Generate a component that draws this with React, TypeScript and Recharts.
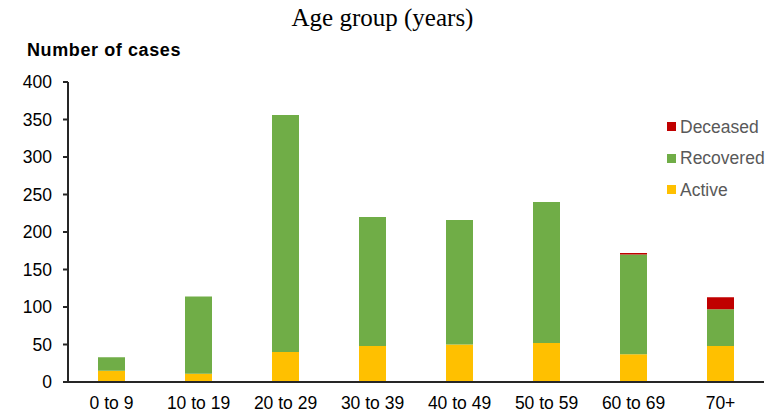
import React from "react";
import { BarChart, Bar, XAxis, YAxis } from "recharts";

const categories = ["0 to 9", "10 to 19", "20 to 29", "30 to 39", "40 to 49", "50 to 59", "60 to 69", "70+"];
const active = [15, 11, 40, 48, 50, 52, 37, 48];
const recovered = [18, 103, 316, 172, 166, 188, 133, 49];
const deceased = [0, 0, 0, 0, 0, 0, 2, 16];
const yTicks = [0, 50, 100, 150, 200, 250, 300, 350, 400];

const COLORS = { active: "#FFC000", recovered: "#70AD47", deceased: "#C00000" };
const legendItems = [
  { name: "Deceased", color: COLORS.deceased },
  { name: "Recovered", color: COLORS.recovered },
  { name: "Active", color: COLORS.active },
];

const data = categories.map((c, i) => ({
  name: c,
  active: active[i],
  recovered: recovered[i],
  deceased: deceased[i],
}));

const tickFont = { fontFamily: "Liberation Sans, Arial, sans-serif", fontSize: 17.5, fill: "#000" };

export default function App() {
  return (
    <div style={{ position: "absolute", left: 0, top: 0, width: 775, height: 420, background: "#fff" }}>
      <BarChart
        width={775}
        height={420}
        data={data}
        margin={{ top: 82, right: 11, bottom: 8, left: 0 }}
        barSize={27}
      >
        <XAxis
          dataKey="name"
          tickLine={false}
          tickSize={6}
          tickMargin={9}
          height={30}
          axisLine={{ stroke: "#262626", strokeWidth: 2 }}
          tick={tickFont}
          interval={0}
        />
        <YAxis
          width={68}
          domain={[0, 400]}
          ticks={yTicks}
          tickSize={5}
          tickMargin={11}
          tickLine={{ stroke: "#262626", strokeWidth: 2 }}
          axisLine={{ stroke: "#262626", strokeWidth: 2 }}
          tick={tickFont}
          interval={0}
        />
        <Bar dataKey="active" stackId="a" fill={COLORS.active} isAnimationActive={false} />
        <Bar dataKey="recovered" stackId="a" fill={COLORS.recovered} isAnimationActive={false} />
        <Bar dataKey="deceased" stackId="a" fill={COLORS.deceased} isAnimationActive={false} />
      </BarChart>
      <div
        style={{
          position: "absolute",
          left: 0,
          width: 765,
          top: 4,
          textAlign: "center",
          fontFamily: "Liberation Serif, serif",
          fontSize: 25,
          lineHeight: "28px",
          color: "#000",
        }}
      >
        Age group (years)
      </div>
      <div
        style={{
          position: "absolute",
          left: 27,
          top: 40,
          fontFamily: "Liberation Sans, Arial, sans-serif",
          fontWeight: "bold",
          fontSize: 18,
          letterSpacing: 0.6,
          lineHeight: "20px",
          color: "#000",
        }}
      >
        Number of cases
      </div>
      <div style={{ position: "absolute", left: 667, top: 111 }}>
        {legendItems.map((it) => (
          <div
            key={it.name}
            style={{ display: "flex", alignItems: "center", height: 31.5 }}
          >
            <div style={{ width: 9, height: 9, background: it.color, marginRight: 4 }} />
            <span
              style={{
                fontFamily: "Liberation Sans, Arial, sans-serif",
                fontSize: 17.5,
                color: "#595959",
                lineHeight: "20px",
              }}
            >
              {it.name}
            </span>
          </div>
        ))}
      </div>
    </div>
  );
}
